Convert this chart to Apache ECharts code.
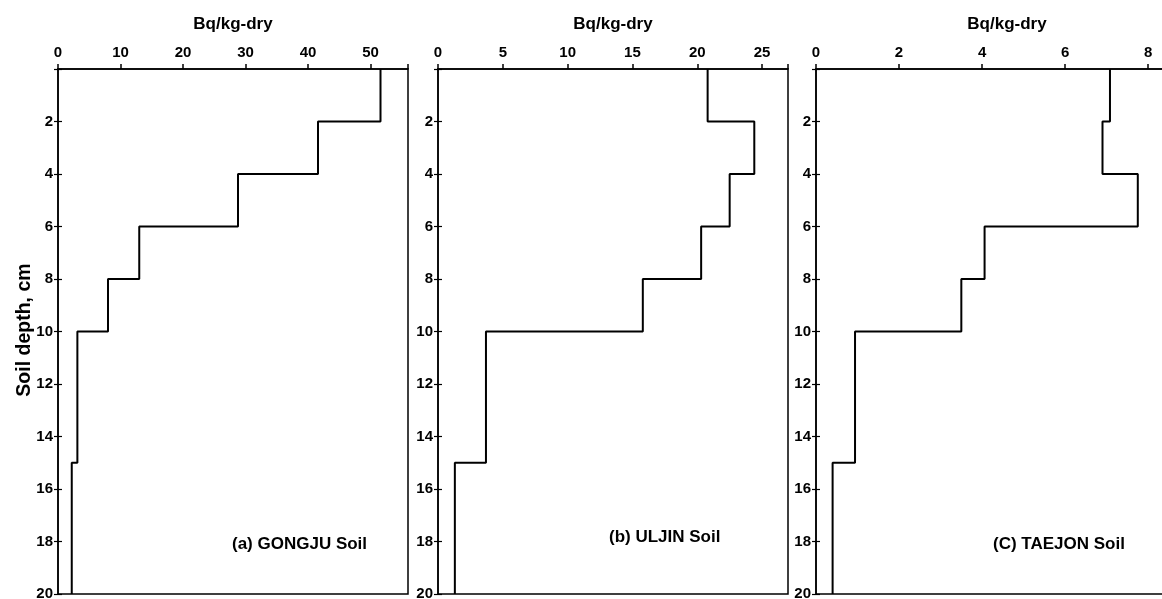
<!DOCTYPE html>
<html>
<head>
<meta charset="utf-8">
<script src="https://cdn.jsdelivr.net/npm/echarts@6/dist/echarts.min.js"></script>
<style>
  html, body { margin: 0; padding: 0; background: #fff; overflow: hidden; }
  #chart { width: 1162px; height: 599px; }
</style>
</head>
<body>
<div id="chart"></div>
<script>
// layer boundaries (cm)
const depths = [0, 2, 4, 6, 8, 10, 15, 20];
// activity per layer, Bq/kg-dry
const gongju = [51.6, 41.6, 28.8, 13.0, 8.0, 3.1, 2.2];
const uljin = [20.8, 24.4, 22.5, 20.3, 15.8, 3.7, 1.3];
const taejon = [7.08, 6.9, 7.75, 4.06, 3.5, 0.94, 0.4];

const depthTicks = [2, 4, 6, 8, 10, 12, 14, 16, 18, 20];
const ticksA = [0, 10, 20, 30, 40, 50];
const ticksB = [0, 5, 10, 15, 20, 25];
const ticksC = [0, 2, 4, 6, 8];

const labels = ['(a) GONGJU Soil', '(b) ULJIN Soil', '(C) TAEJON Soil'];

const font = '"Liberation Sans", Arial, sans-serif';

// step profile: vertical line per layer, joined at the boundaries
function profile(vals) {
  const pts = [];
  vals.forEach((v, i) => {
    pts.push([v, depths[i]]);
    pts.push([v, depths[i + 1]]);
  });
  return pts;
}

const panels = [
  { left: 58, width: 350, max: 56, interval: 10, ticks: ticksA, data: gongju, label: labels[0], lx: 227, ly: 531 },
  { left: 438, width: 350, max: 27, interval: 5, ticks: ticksB, data: uljin, label: labels[1], lx: 604, ly: 524 },
  { left: 816, width: 382, max: 9.2, interval: 2, ticks: ticksC, data: taejon, label: labels[2], lx: 988, ly: 531 }
];

const grid = [], xAxis = [], yAxis = [], series = [], title = [];

panels.forEach((p, i) => {
  grid.push({
    left: p.left, width: p.width, top: 69, height: 525,
    outerBoundsMode: 'none', containLabel: false,
    show: true, borderColor: '#000', borderWidth: 1.5, backgroundColor: 'transparent'
  });
  xAxis.push({
    gridIndex: i, type: 'value', position: 'top',
    min: 0, max: p.max, interval: p.interval,
    name: 'Bq/kg-dry', nameLocation: 'middle', nameGap: 36,
    nameTextStyle: { fontFamily: font, fontWeight: 'bold', fontSize: 17, color: '#000' },
    axisLine: { show: true, lineStyle: { color: '#000', width: 1.5 } },
    axisTick: { show: true, length: 5, lineStyle: { color: '#000', width: 1.5 } },
    axisLabel: {
      margin: 9, color: '#000', fontFamily: font, fontWeight: 'bold', fontSize: 15,
      formatter: v => (p.ticks.includes(v) ? String(v) : '')
    },
    splitLine: { show: false }
  });
  yAxis.push({
    gridIndex: i, type: 'value', position: 'left', inverse: true,
    min: 0, max: 20, interval: 2,
    axisLine: { show: true, lineStyle: { color: '#000', width: 1.5 } },
    axisTick: { show: false },
    axisLabel: {
      margin: 5, color: '#000', fontFamily: font, fontWeight: 'bold', fontSize: 15,
      formatter: v => (depthTicks.includes(v) ? String(v) : '')
    },
    splitLine: { show: false }
  });
  // shifted copy of the depth axis that draws the "+" ticks across the line
  yAxis.push({
    gridIndex: i, type: 'value', position: 'left', offset: -4, inverse: true,
    min: 0, max: 20, interval: 2,
    axisLine: { show: true, lineStyle: { color: '#000', width: 1.5, opacity: 0 } },
    axisTick: { show: true, length: 8, lineStyle: { color: '#000', width: 1.2 } },
    axisLabel: { show: false },
    splitLine: { show: false }
  });
  series.push({
    type: 'line', xAxisIndex: i, yAxisIndex: i * 2,
    data: profile(p.data),
    showSymbol: false, symbol: 'none', animation: false,
    lineStyle: { color: '#000', width: 2 }
  });
  title.push({
    text: p.label, left: p.lx, top: p.ly,
    textStyle: { fontFamily: font, fontWeight: 'bold', fontSize: 17, color: '#000' }
  });
});

const myChart = echarts.init(document.getElementById('chart'));
myChart.setOption({
  backgroundColor: '#fff',
  animation: false,
  title, grid, xAxis, yAxis, series,
  graphic: [{
    type: 'text', x: 25, y: 330, rotation: Math.PI / 2,
    style: {
      text: 'Soil depth, cm', align: 'center', verticalAlign: 'middle',
      font: 'bold 19.5px "Liberation Sans", Arial, sans-serif', fill: '#000'
    }
  }]
});
</script>
</body>
</html>
